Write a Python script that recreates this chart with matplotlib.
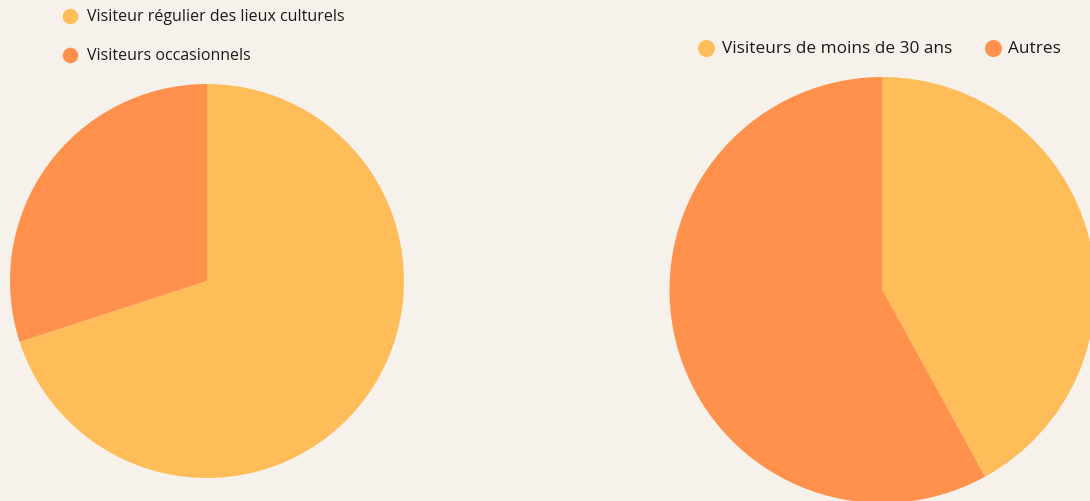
import matplotlib
matplotlib.use("Agg")
import matplotlib.pyplot as plt

# Data
left_labels = ["Visiteur régulier des lieux culturels", "Visiteurs occasionnels"]
left_values = [70, 30]
right_labels = ["Visiteurs de moins de 30 ans", "Autres"]
right_values = [42, 58]
colors = ["#FFBD59", "#FF914D"]
bg = "#F6F2EB"

W, H = 1090, 502
fig = plt.figure(figsize=(W / 100, H / 100), dpi=100, facecolor=bg)
ax = fig.add_axes([0, 0, 1, 1])
ax.set_facecolor(bg)

def py(y):
    return H - y

ax.pie(left_values, colors=colors, startangle=90, counterclock=False,
       center=(207, py(282)), radius=197, wedgeprops=dict(linewidth=0))
ax.pie(right_values, colors=colors, startangle=90, counterclock=False,
       center=(882.5, py(291)), radius=213, wedgeprops=dict(linewidth=0))

ax.set_xlim(0, W)
ax.set_ylim(0, H)
ax.set_aspect("equal")
ax.axis("off")

legend_items = [
    (70, 17, 87, left_labels[0], colors[0], 11.5, 125),
    (70, 56, 87, left_labels[1], colors[1], 11.5, 125),
    (706, 49, 722, right_labels[0], colors[0], 12.4, 150),
    (993, 49, 1008, right_labels[1], colors[1], 12.4, 150),
]
for mx, my, tx, label, c, fs, s in legend_items:
    ax.scatter([mx], [py(my)], s=s, color=c, linewidths=0, zorder=5)
    ax.text(tx, py(my), label, family=["Open Sans", "DejaVu Sans"],
            fontsize=fs, color="#1c1c1c", va="center")

fig.savefig("out.png", dpi=100, facecolor=bg)
